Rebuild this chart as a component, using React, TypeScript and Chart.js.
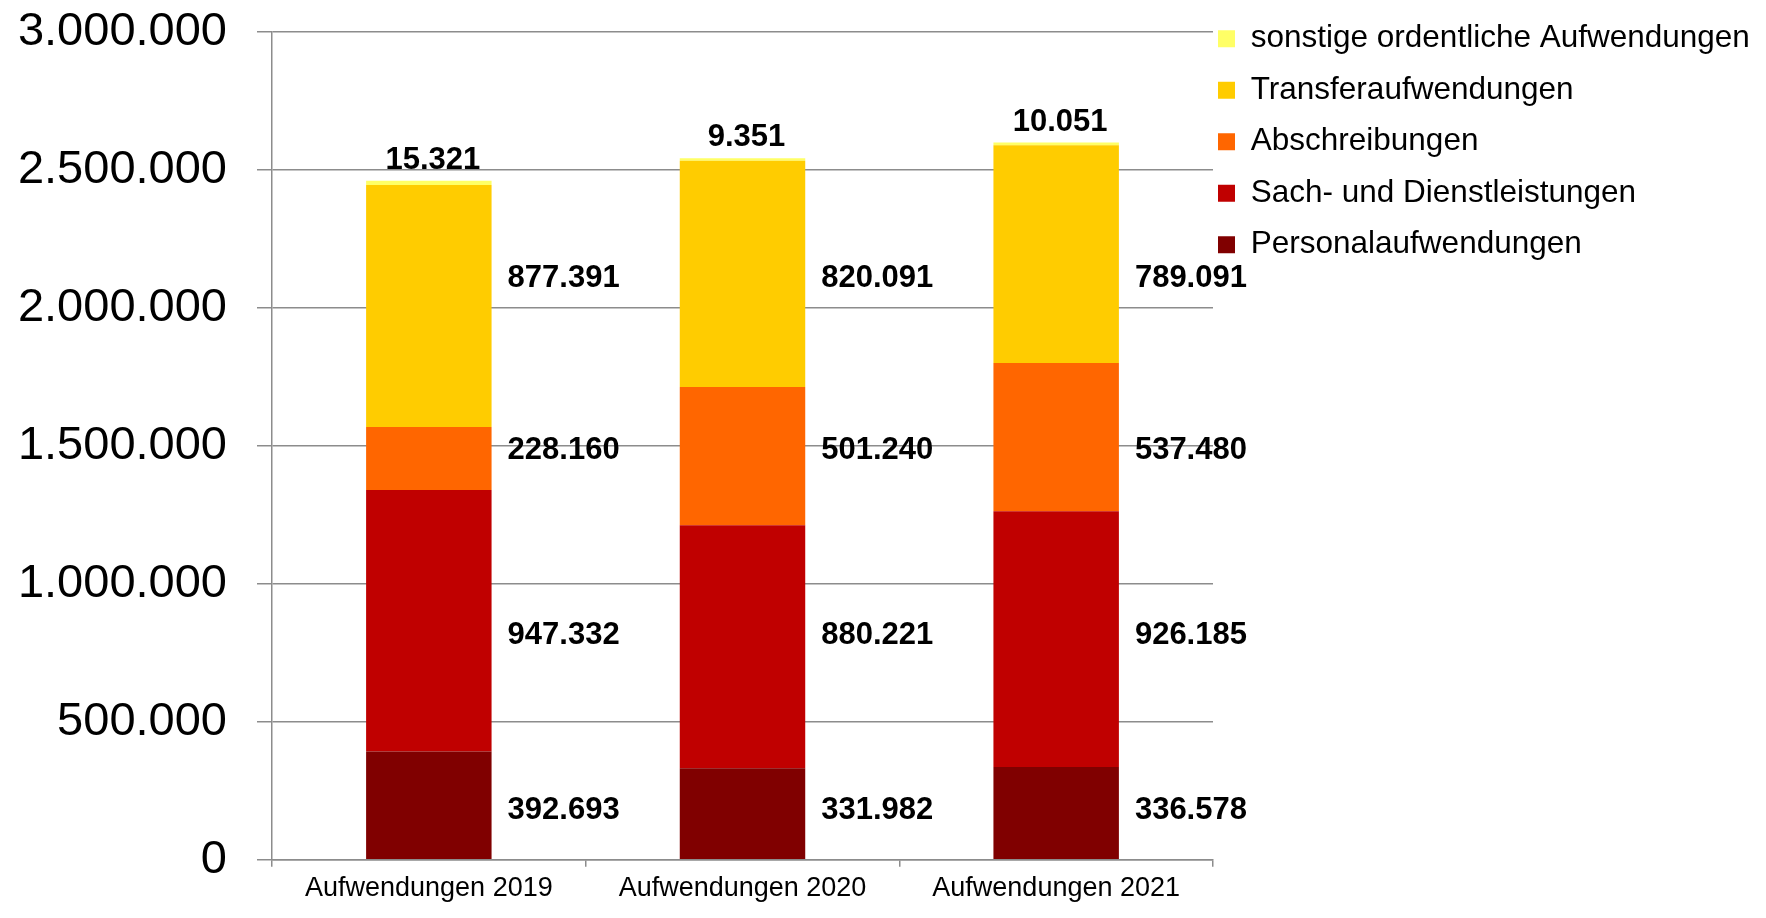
import React, { useEffect, useRef } from 'react';
import { Chart, registerables } from 'chart.js';

Chart.register(...registerables);

const categories = ['Aufwendungen 2019', 'Aufwendungen 2020', 'Aufwendungen 2021'];
const personalaufwendungen = [392693, 331982, 336578];
const sachUndDienstleistungen = [947332, 880221, 926185];
const abschreibungen = [228160, 501240, 537480];
const transferaufwendungen = [877391, 820091, 789091];
const sonstigeAufwendungen = [15321, 9351, 10051];

const seriesNames = [
  'Personalaufwendungen',
  'Sach- und Dienstleistungen',
  'Abschreibungen',
  'Transferaufwendungen',
  'sonstige ordentliche Aufwendungen',
];
const seriesValues = [
  personalaufwendungen,
  sachUndDienstleistungen,
  abschreibungen,
  transferaufwendungen,
  sonstigeAufwendungen,
];
const seriesColors = ['#800000', '#C00000', '#FF6600', '#FFCC00', '#FFFF66'];

const yMin = 0;
const yMax = 3000000;
const yStep = 500000;

const FONT = '"Liberation Sans", Arial, Helvetica, sans-serif';
const GRID = '#8c8c8c';

const fmt = (v: number) => String(Math.round(v)).replace(/\B(?=(\d{3})+(?!\d))/g, '.');

const legendShift = {
  id: 'legendShift',
  afterLayout(chart: any) {
    const lg = chart.legend;
    if (lg) {
      lg.left -= 15;
      lg.top += 3;
    }
  },
};

// Segment labels sit to the right of each bar; labels of one series are
// aligned on a common row (mean of the segment centres across categories).
const dataLabels = {
  id: 'dataLabels',
  afterDatasetsDraw(chart: any) {
    const ctx = chart.ctx;
    const n = chart.data.datasets.length;
    ctx.save();
    ctx.fillStyle = '#000';
    ctx.font = `bold 31px ${FONT}`;
    chart.data.datasets.forEach((ds: any, i: number) => {
      const meta = chart.getDatasetMeta(i);
      const centres = meta.data.map((el: any) => (el.y + el.base) / 2);
      const rowY = centres.reduce((a: number, b: number) => a + b, 0) / centres.length;
      meta.data.forEach((el: any, j: number) => {
        const text = fmt(ds.data[j]);
        if (i === n - 1) {
          ctx.textAlign = 'center';
          ctx.textBaseline = 'alphabetic';
          ctx.fillText(text, el.x + 4, Math.min(el.y, el.base) - 12);
        } else {
          ctx.textAlign = 'left';
          ctx.textBaseline = 'middle';
          ctx.fillText(text, el.x + el.width / 2 + 16, rowY);
        }
      });
    });
    ctx.restore();
  },
};

export default function App() {
  const ref = useRef<HTMLCanvasElement | null>(null);

  useEffect(() => {
    document.body.style.margin = '0';
    if (!ref.current) return;
    const chart = new Chart(ref.current, {
      type: 'bar',
      data: {
        labels: categories,
        datasets: seriesNames.map((name, i) => ({
          label: name,
          data: seriesValues[i],
          backgroundColor: seriesColors[i],
          borderWidth: 0,
          barPercentage: 0.8,
          categoryPercentage: 0.5,
        })),
      },
      options: {
        responsive: false,
        animation: false,
        layout: { padding: 0 },
        plugins: {
          tooltip: { enabled: false },
          legend: {
            position: 'right',
            align: 'start',
            reverse: true,
            maxWidth: 553,
            labels: {
              boxWidth: 17,
              boxHeight: 17,
              padding: 20,
              color: '#000',
              font: { size: 31.5, family: FONT },
            },
          },
        },
        scales: {
          x: {
            stacked: true,
            afterFit: (s: any) => {
              s.height = 46;
            },
            grid: {
              offset: true,
              drawOnChartArea: false,
              drawTicks: true,
              tickLength: 7,
              color: GRID,
              lineWidth: 1.5,
            },
            border: { display: true, color: GRID, width: 1.5 },
            ticks: {
              color: '#000',
              padding: 6,
              maxRotation: 0,
              font: { size: 27, family: FONT },
            },
          },
          y: {
            stacked: true,
            min: yMin,
            max: yMax,
            afterFit: (s: any) => {
              s.width = 272;
              s.paddingTop = 32;
            },
            grid: {
              color: GRID,
              lineWidth: 1.5,
              drawTicks: true,
              tickLength: 15,
            },
            border: { display: true, color: GRID, width: 1.5 },
            ticks: {
              stepSize: yStep,
              color: '#000',
              padding: 30,
              font: { size: 47, family: FONT },
              callback: (v: any) => fmt(Number(v)),
            },
          },
        },
      },
      plugins: [legendShift, dataLabels],
    } as any);
    return () => chart.destroy();
  }, []);

  return (
    <div style={{ width: 1766, height: 918 }}>
      <canvas ref={ref} width={1766} height={918} style={{ display: 'block', width: 1766, height: 918 }} />
    </div>
  );
}
